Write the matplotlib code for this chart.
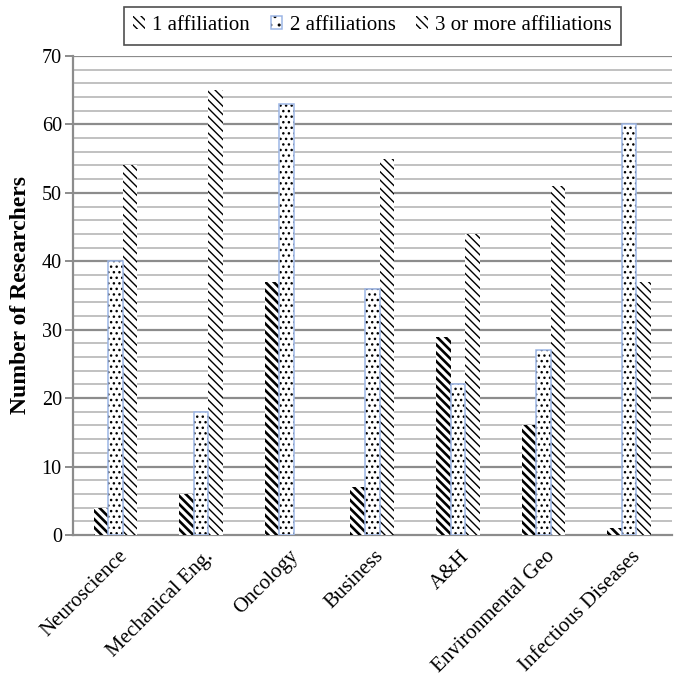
import matplotlib
matplotlib.use("Agg")
import matplotlib.pyplot as plt
import matplotlib.transforms as mtransforms
import matplotlib.patches as mpatches
import numpy as np

plt.rcParams['font.family'] = ['Liberation Serif', 'DejaVu Serif']

categories = ["Neuroscience", "Mechanical Eng.", "Oncology", "Business", "A&H",
              "Environmental Geo", "Infectious Diseases"]
one_aff = [4, 6, 37, 7, 29, 16, 1]
two_aff = [40, 18, 63, 36, 22, 27, 60]
three_plus = [54, 65, 0, 55, 44, 51, 37]
series_names = ["1 affiliation", "2 affiliations", "3 or more affiliations"]

fig = plt.figure(figsize=(6.75, 6.76), dpi=100)
ax = fig.add_axes([0.108, 0.2086, 0.887, 0.7086])

x = np.arange(len(categories))
w = 0.17

ax.set_ylim(0, 70)
ax.set_xlim(-0.5, len(categories) - 0.5)

# horizontal grid: light minor lines every 2, darker major lines every 10
for v in range(2, 71, 2):
    major = (v % 10 == 0)
    ax.axhline(v, color='#8c8c8c' if major else '#bcbcbc',
               lw=1.6 if major else 1.3, zorder=0)

blue_edge = '#9db6e6'

with plt.rc_context({'hatch.linewidth': 1.9, 'hatch.color': 'black'}):
    b1 = ax.bar(x - w, one_aff, w, color='white', edgecolor='black',
                hatch='\\\\\\\\', linewidth=0, zorder=3)
with plt.rc_context({'hatch.linewidth': 1.0, 'hatch.color': 'black'}):
    b2 = ax.bar(x, two_aff, w, color='white', edgecolor='black',
                hatch='...', linewidth=0, zorder=3)
    ax.bar(x, two_aff, w, color='none', edgecolor=blue_edge, linewidth=1.1, zorder=4)
    h2 = (mpatches.Patch(facecolor='white', edgecolor='black', hatch='..', linewidth=0),
          mpatches.Patch(facecolor='none', edgecolor=blue_edge, linewidth=1.1))
with plt.rc_context({'hatch.linewidth': 1.0, 'hatch.color': '#111111'}):
    b3 = ax.bar(x + w, three_plus, w, color='white', edgecolor='black',
                hatch='\\\\\\\\', linewidth=0, zorder=3)

for s in ['top', 'right']:
    ax.spines[s].set_visible(False)
for s in ['left', 'bottom']:
    ax.spines[s].set_color('#8c8c8c')
    ax.spines[s].set_linewidth(1.6)

ax.set_yticks(range(0, 71, 10))
ax.tick_params(axis='y', length=6, width=1.4, color='#8c8c8c', labelsize=14.5, pad=2)
ax.tick_params(axis='x', length=0, labelsize=15, pad=4)
ax.set_xticks(x)
ax.set_xticklabels(categories, rotation=45, ha='right', va='center',
                   rotation_mode='anchor')
shift = mtransforms.ScaledTranslation(9 / 100, -13 / 100, fig.dpi_scale_trans)
for lbl in ax.get_xticklabels():
    lbl.set_transform(lbl.get_transform() + shift)

ax.set_ylabel("Number of Researchers", fontsize=17, fontweight='bold')
ax.yaxis.set_label_coords(-0.07, 0.5)

leg = fig.legend(handles=[b1, h2, b3], labels=series_names, loc='center',
                 bbox_to_anchor=(0.552, 0.962), ncol=3, frameon=True, fancybox=False,
                 fontsize=15, handlelength=0.55, handleheight=0.6, handletextpad=0.35,
                 columnspacing=1.0, borderpad=0.45, borderaxespad=0)
leg.get_frame().set_edgecolor('#222222')
leg.get_frame().set_linewidth(1.2)

fig.savefig("out.png", dpi=100)
